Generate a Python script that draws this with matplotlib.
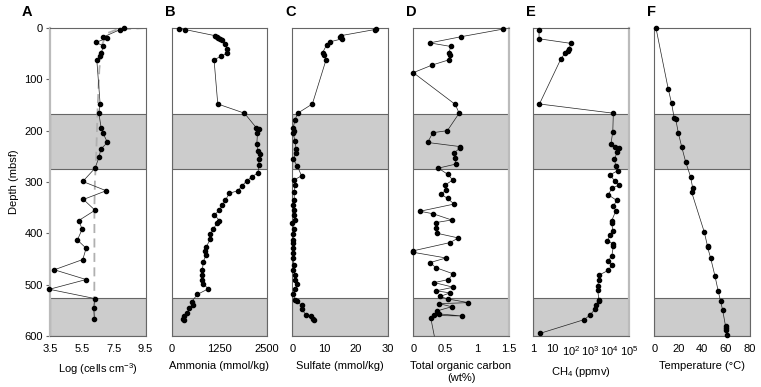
import matplotlib
matplotlib.use("Agg")
import matplotlib.pyplot as plt
import numpy as np

plt.rcParams["font.family"] = ["Liberation Sans", "DejaVu Sans"]
plt.rcParams["mathtext.fontset"] = "custom"
plt.rcParams["mathtext.rm"] = "Liberation Sans"
plt.rcParams["mathtext.it"] = "Liberation Sans:italic"

# --- data (depth in mbsf) ---
cells_depth = [0, 3, 18, 20, 28, 35, 49, 54, 62, 148, 166, 194, 204, 223, 236, 251, 273,
               299, 317, 334, 355, 375, 392, 413, 429, 451, 471, 490, 509, 527, 546, 566]
cells_log = [8.18, 7.91, 6.82, 7.07, 6.38, 6.86, 6.71, 6.65, 6.44, 6.65, 6.57, 6.71, 6.82,
             7.11, 6.69, 6.59, 6.33, 5.56, 7.03, 5.6, 6.33, 5.31, 5.52, 5.22, 5.77, 5.56,
             3.77, 5.77, 3.46, 6.31, 6.25, 6.29]
model_depth = [0, 3, 10, 30, 80, 150, 250, 300, 350, 450, 566]
model_log = [9.5, 7.7, 7.1, 6.8, 6.6, 6.5, 6.4, 6.32, 6.29, 6.29, 6.28]

nh4_depth = [1, 3, 15, 17, 19, 21, 23, 32, 40, 49, 55, 62, 148, 166, 194, 196, 204, 226,
             240, 246, 256, 266, 282, 290, 298, 307, 317, 322, 335, 345, 355, 364, 375,
             380, 392, 402, 412, 427, 434, 442, 455, 471, 481, 491, 499, 508, 519, 533,
             540, 546, 556, 562, 566, 569]
nh4 = [191, 349, 1136, 1180, 1223, 1267, 1311, 1398, 1459, 1442, 1293, 1109, 1206, 1905,
       2211, 2281, 2246, 2228, 2255, 2316, 2281, 2281, 2260, 2100, 1960, 1850, 1730, 1511,
       1407, 1328, 1249, 1118, 1249, 1180, 1092, 1005, 1005, 900, 873, 900, 829, 803,
       803, 787, 829, 960, 672, 525, 567, 462, 393, 331, 304, 323]

so4_depth = [1, 3, 15, 17, 21, 27, 33, 48, 53, 62, 148, 166, 179, 194, 201, 205, 221, 236,
             243, 256, 269, 288, 296, 306, 319, 335, 345, 355, 364, 374, 380, 392, 402, 413,
             419, 429, 439, 449, 462, 471, 481, 490, 499, 508, 518, 529, 532, 540, 547, 559,
             562, 566, 569]
so4 = [26.2, 25.9, 15.2, 15.0, 15.7, 11.8, 10.8, 9.5, 9.9, 10.6, 6.3, 1.7, 0.85, 0.3, 0.5,
       0.3, 0.85, 1.2, 1.1, 0.3, 1.6, 2.9, 0.6, 0.85, 0.6, 0.6, 0.3, 0.5, 0.5, 0.85, 0.0,
       0.5, 0.3, 0.3, 0.3, 0.3, 0.2, 0.3, 0.5, 0.3, 0.85, 0.85, 1.6, 0.85, 0.2, 0.85, 1.4,
       2.9, 2.9, 4.3, 5.9, 6.4, 6.9]

toc_depth = [2, 17, 29, 36, 48, 53, 62, 72, 87, 149, 166, 200, 204, 223, 231, 234, 243, 254,
             265, 273, 285, 296, 306, 316, 324, 332, 343, 357, 362, 374, 379, 390, 400, 409,
             418, 434, 437, 448, 457, 467, 479, 490, 496, 505, 512, 516, 523, 528, 535, 537,
             543, 551, 557, 561, 560, 564, 600]
toc = [1.415, 0.75, 0.26, 0.59, 0.56, 0.57, 0.56, 0.30, 0.0, 0.66, 0.72, 0.535, 0.305,
       0.226, 0.734, 0.73, 0.645, 0.656, 0.671, 0.393, 0.54, 0.62, 0.5, 0.51, 0.435, 0.54,
       0.64, 0.105, 0.315, 0.603, 0.357, 0.357, 0.377, 0.708, 0.577, 0.0, 0.0, 0.514,
       0.262, 0.357, 0.629, 0.55, 0.33, 0.629, 0.357, 0.577, 0.42, 0.55, 0.865, 0.409,
       0.603, 0.377, 0.409, 0.77, 0.325, 0.273, 0.33]

ch4_depth = [3, 21, 30, 40, 45, 49, 60, 148, 166, 202, 225, 231, 234, 241, 256, 269, 278,
             286, 299, 306, 312, 325, 336, 347, 356, 375, 380, 396, 403, 414, 421, 425, 444,
             453, 462, 472, 481, 491, 502, 510, 529, 532, 540, 548, 559, 568, 595]
ch4 = [2, 2, 95, 74, 63, 46, 28, 2.1, 15500, 14500, 11700, 19000, 31000, 25000, 17600,
       20900, 26300, 10500, 19000, 31000, 12900, 8500, 23400, 15500, 20900, 12900, 12900,
       14500, 10500, 7600, 15500, 15500, 12900, 8500, 12900, 8500, 2900, 2750, 2340, 2340,
       2700, 2700, 1950, 1700, 930, 470, 2.2]

temp_depth = [0, 119, 147, 176, 177, 204, 231, 261, 290, 311, 320, 397, 425, 427, 448, 483,
              512, 532, 549, 581, 585, 588, 599]
temp = [1.4, 11.7, 14.5, 16.7, 17.9, 20.1, 22.9, 26.3, 30.4, 32.1, 31.3, 41.8, 44.6, 44.6,
        47.2, 50.8, 53.5, 55.5, 57.2, 59.7, 59.7, 60.0, 60.8]

bands = [(167, 274), (525, 600)]

fig = plt.figure(figsize=(7.61, 3.87), dpi=100)
lefts = [50, 171.7, 292.3, 413.3, 533.3, 654.3]
W, H = 761.0, 387.0
axes = [fig.add_axes([l / W, 51 / H, 95.5 / W, 308 / H]) for l in lefts]

panels = [
    ("A", cells_log, cells_depth, (3.5, 9.5), [3.5, 5.5, 7.5, 9.5], ["3.5", "5.5", "7.5", "9.5"],
     "Log (cells cm$^{-3}$)"),
    ("B", nh4, nh4_depth, (0, 2500), [0, 1250, 2500], ["0", "1250", "2500"], "Ammonia (mmol/kg)"),
    ("C", so4, so4_depth, (0, 30), [0, 10, 20, 30], ["0", "10", "20", "30"], "Sulfate (mmol/kg)"),
    ("D", toc, toc_depth, (0, 1.5), [0, 0.5, 1, 1.5], ["0", "0.5", "1", "1.5"],
     "Total organic carbon\n(wt%)"),
    ("E", ch4, ch4_depth, (1, 1e5), [1, 10, 100, 1e3, 1e4, 1e5],
     ["1", "10", "10$^2$", "10$^3$", "10$^4$", "10$^5$"], "CH$_4$ (ppmv)"),
    ("F", temp, temp_depth, (0, 80), [0, 20, 40, 60, 80], ["0", "20", "40", "60", "80"],
     "Temperature (\u00b0C)"),
]

for i, (ax, (lab, xv, dv, xlim, xt, xtl, xlab)) in enumerate(zip(axes, panels)):
    if lab == "E":
        ax.set_xscale("log")
    for top, bot in bands:
        ax.axhspan(top, bot, facecolor="#cccccc", edgecolor="#666666", lw=0.8, zorder=0)
    if lab == "A":
        ax.plot(model_log, model_depth, color="#b0b0b0", lw=1.3, dashes=(5, 3), zorder=1)
    n = len(xv)
    # last TOC value sits on the bottom edge without a marker
    mk = list(range(n - 1)) if lab == "D" else None
    ax.plot(xv, dv, color="#222222", lw=0.5, marker="o", ms=3.0, mfc="black", mec="black",
            markevery=mk, zorder=3, clip_on=False)
    if lab == "F":
        ax.plot([temp[-1], 61.0], [temp_depth[-1], 600], color="#222222", lw=0.5, zorder=3)
    ax.set_xlim(*xlim)
    ax.set_ylim(600, 0)
    ax.set_xticks(xt)
    ax.set_xticklabels(xtl)
    ax.minorticks_off()
    ax.tick_params(axis="x", length=0, pad=6, labelsize=8)
    ax.set_xlabel(xlab, fontsize=8, labelpad=5)
    for s in ax.spines.values():
        s.set_color("#666666")
        s.set_linewidth(0.8)
    if lab == "A":
        ax.set_yticks(range(0, 601, 100))
        ax.tick_params(axis="y", length=3, width=0.8, color="#666666", labelsize=8, pad=2)
        ax.set_ylabel("Depth (mbsf)", fontsize=8, labelpad=4)
        ax.spines["left"].set_color("#bbbbbb")
        ax.spines["left"].set_linewidth(1.6)
    else:
        ax.set_yticks([])
    if lab in ("D", "E"):
        ax.spines["right"].set_color("#bbbbbb")
        ax.spines["right"].set_linewidth(1.6)
    lx = 22 if lab == "A" else lefts[i] - 7
    fig.text(lx / W, 1 - 12 / H, lab, fontsize=10.5, fontweight="bold", ha="left", va="center")

fig.savefig("out.png", dpi=100)
